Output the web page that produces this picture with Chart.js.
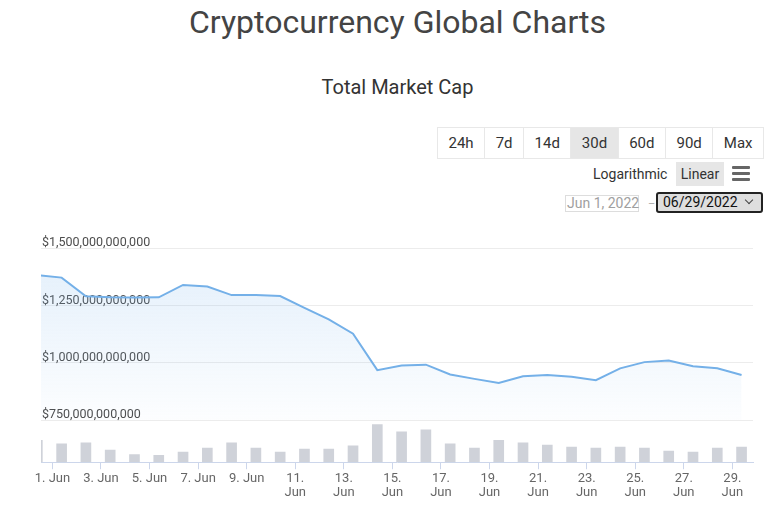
<!DOCTYPE html>
<html>
<head>
<meta charset="utf-8">
<script src="https://cdn.jsdelivr.net/npm/chart.js@4.4.1/dist/chart.umd.min.js"></script>
<style>
  html, body { margin: 0; padding: 0; background: #fff; }
  body { width: 770px; height: 510px; position: relative; overflow: hidden; font-family: Roboto, "Noto Sans", sans-serif; }
  .abs { position: absolute; }
  #title { left: 0; width: 795px; top: 6px; text-align: center; font-size: 32px; line-height: 32px; color: #444; }
  #subtitle { left: 0; width: 795px; top: 77px; text-align: center; font-size: 20px; line-height: 20px; color: #333; }
  #ranges { left: 437px; top: 127px; height: 32px; display: flex; border: 1px solid #e8e8e8; box-sizing: border-box; }
  #ranges div { padding: 0 10.5px; line-height: 30px; font-size: 15px; color: #333; border-left: 1px solid #e8e8e8; }
  #ranges div:first-child { border-left: none; }
  #ranges div.on { background: #e6e6e6; }
  #logLabel { left: 593px; top: 162px; line-height: 24px; font-size: 14px; color: #333; }
  #linBtn { left: 676px; top: 162px; width: 48px; height: 24px; line-height: 24px; text-align: center; font-size: 14px; color: #333; background: #e6e6e6; }
  .bar { left: 732px; width: 18px; height: 2.6px; background: #666; border-radius: 1px; }
  #fromDate { left: 565px; top: 195px; width: 74px; height: 17px; box-sizing: border-box; border: 1px solid #ddd; font-size: 14px; line-height: 15px; color: #a0a0a0; padding-left: 1px; white-space: nowrap; }
  #dash { left: 648px; top: 197px; font-size: 11px; color: #aaa; }
  #toDate { left: 656px; top: 192px; width: 107px; height: 21px; box-sizing: border-box; border: 2px solid #222; border-radius: 3px; background: #dedede; font-size: 14px; line-height: 17px; color: #111; padding-left: 5px; white-space: nowrap; }
  #chev { left: 746px; top: 197px; width: 5px; height: 5px; border-right: 1px solid #444; border-bottom: 1px solid #444; transform: rotate(45deg); }
  #wrap { left: 0; top: 225px; width: 770px; height: 285px; }
</style>
</head>
<body>
<div id="title" class="abs">Cryptocurrency Global Charts</div>
<div id="subtitle" class="abs">Total Market Cap</div>
<div id="ranges" class="abs">
  <div>24h</div><div>7d</div><div>14d</div><div class="on">30d</div><div>60d</div><div>90d</div><div>Max</div>
</div>
<div id="logLabel" class="abs">Logarithmic</div>
<div id="linBtn" class="abs">Linear</div>
<div class="abs bar" style="top:166px"></div>
<div class="abs bar" style="top:172.2px"></div>
<div class="abs bar" style="top:178.4px"></div>
<div id="fromDate" class="abs">Jun 1, 2022</div>
<div id="dash" class="abs">–</div>
<div id="toDate" class="abs">06/29/2022</div>
<div id="chev" class="abs"></div>
<div id="wrap" class="abs"><canvas id="capChart"></canvas></div>

<script>
// daily samples (taken at roughly the same hour every day)
const dates = [
  "2022-05-31", "2022-06-01", "2022-06-02", "2022-06-03", "2022-06-04", "2022-06-05",
  "2022-06-06", "2022-06-07", "2022-06-08", "2022-06-09", "2022-06-10", "2022-06-11",
  "2022-06-12", "2022-06-13", "2022-06-14", "2022-06-15", "2022-06-16", "2022-06-17",
  "2022-06-18", "2022-06-19", "2022-06-20", "2022-06-21", "2022-06-22", "2022-06-23",
  "2022-06-24", "2022-06-25", "2022-06-26", "2022-06-27", "2022-06-28", "2022-06-29",
];
const sampleHour = 9.1;

// total market cap, billions of USD
const marketCapBillions = [
  1382, 1371, 1290, 1285, 1284, 1285, 1339, 1332, 1295, 1295,
  1291, 1239, 1189, 1127, 968, 988, 992, 949, 930, 912,
  941, 947, 939, 924, 976, 1003, 1010, 985, 976, 947,
];

// total volume, billions of USD
const volumeBillions = [
  99, 83, 88, 55, 35, 31, 46, 64, 88, 64,
  46, 59, 59, 74, 170, 137, 146, 83, 64, 99,
  88, 77, 68, 64, 68, 64, 50, 46, 64, 68,
];

const priceTicks = [750, 1000, 1250, 1500];
const tickDays = [1, 3, 5, 7, 9, 11, 13, 15, 17, 19, 21, 23, 25, 27, 29];
const tickLabels = [
  "1. Jun", "3. Jun", "5. Jun", "7. Jun", "9. Jun",
  ["11.", "Jun"], ["13.", "Jun"], ["15.", "Jun"], ["17.", "Jun"], ["19.", "Jun"],
  ["21.", "Jun"], ["23.", "Jun"], ["25.", "Jun"], ["27.", "Jun"], ["29.", "Jun"],
];

const DAY = 864e5;
const origin = Date.parse("2022-06-01");
const dayX = (d) => (Date.parse(d) - origin) / DAY + sampleHour / 24;

const capPoints = dates.map((d, i) => ({ x: dayX(d), y: marketCapBillions[i] }));
const volPoints = dates.map((d, i) => ({ x: dayX(d), y: volumeBillions[i] }));
const tickX = tickDays.map((n) => n - 1);

const fmtUsd = (b) => "$" + (b * 1e9).toLocaleString("en-US");

const areaFill = (context) => {
  const { chart } = context;
  const y = chart.scales && chart.scales.y;
  if (!y || !chart.chartArea) return "rgba(124, 181, 236, 0.12)";
  const g = chart.ctx.createLinearGradient(0, y.top, 0, y.bottom);
  g.addColorStop(0, "rgba(124, 181, 236, 0.22)");
  g.addColorStop(1, "rgba(124, 181, 236, 0.02)");
  return g;
};

new Chart(document.getElementById("capChart"), {
  data: {
    datasets: [
      {
        type: "line",
        label: "Total Market Cap",
        data: capPoints,
        yAxisID: "y",
        borderColor: "#74b0e8",
        borderWidth: 2,
        backgroundColor: areaFill,
        fill: "start",
        pointRadius: 0,
        tension: 0,
      },
      {
        type: "bar",
        label: "Total Volume",
        data: volPoints,
        yAxisID: "yVol",
        backgroundColor: "#cfd2d9",
        barThickness: 10,
      },
    ],
  },
  options: {
    responsive: true,
    maintainAspectRatio: false,
    animation: false,
    layout: { padding: { left: 39, right: 17, top: 23, bottom: 8 } },
    plugins: { legend: { display: false }, tooltip: { enabled: false } },
    scales: {
      x: {
        type: "linear",
        position: "bottom",
        min: -0.47,
        max: 28.85,
        offset: false,
        afterBuildTicks: (scale) => {
          scale.ticks = tickX.map((v) => ({ value: v }));
        },
        ticks: {
          autoSkip: false,
          maxRotation: 0,
          padding: 3,
          color: "#666",
          font: { family: "Roboto", size: 13, lineHeight: 1.03 },
          callback: (v) => tickLabels[tickX.indexOf(v)],
        },
        grid: { drawOnChartArea: false, drawTicks: true, tickLength: 7, color: "#ccd6eb", offset: false },
        border: { display: true, color: "#ccd6eb" },
      },
      // volume pane first: left-side stacks are laid out in reverse order
      yVol: {
        type: "linear",
        position: "left",
        stack: "panes",
        stackWeight: 1,
        min: 0,
        max: 190,
        ticks: { display: false },
        grid: { display: false, drawTicks: false },
        border: { display: false },
      },
      y: {
        type: "linear",
        position: "left",
        stack: "panes",
        stackWeight: 4.1,
        min: 750,
        max: 1500,
        afterBuildTicks: (scale) => {
          scale.ticks = priceTicks.map((v) => ({ value: v }));
        },
        ticks: {
          mirror: true,
          padding: 1,
          labelOffset: -5,
          color: "#4d4d4d",
          font: { family: "Roboto", size: 12.5 },
          callback: fmtUsd,
        },
        grid: { color: "#ececec", drawTicks: false },
        border: { display: false },
      },
    },
  },
});
</script>
</body>
</html>
